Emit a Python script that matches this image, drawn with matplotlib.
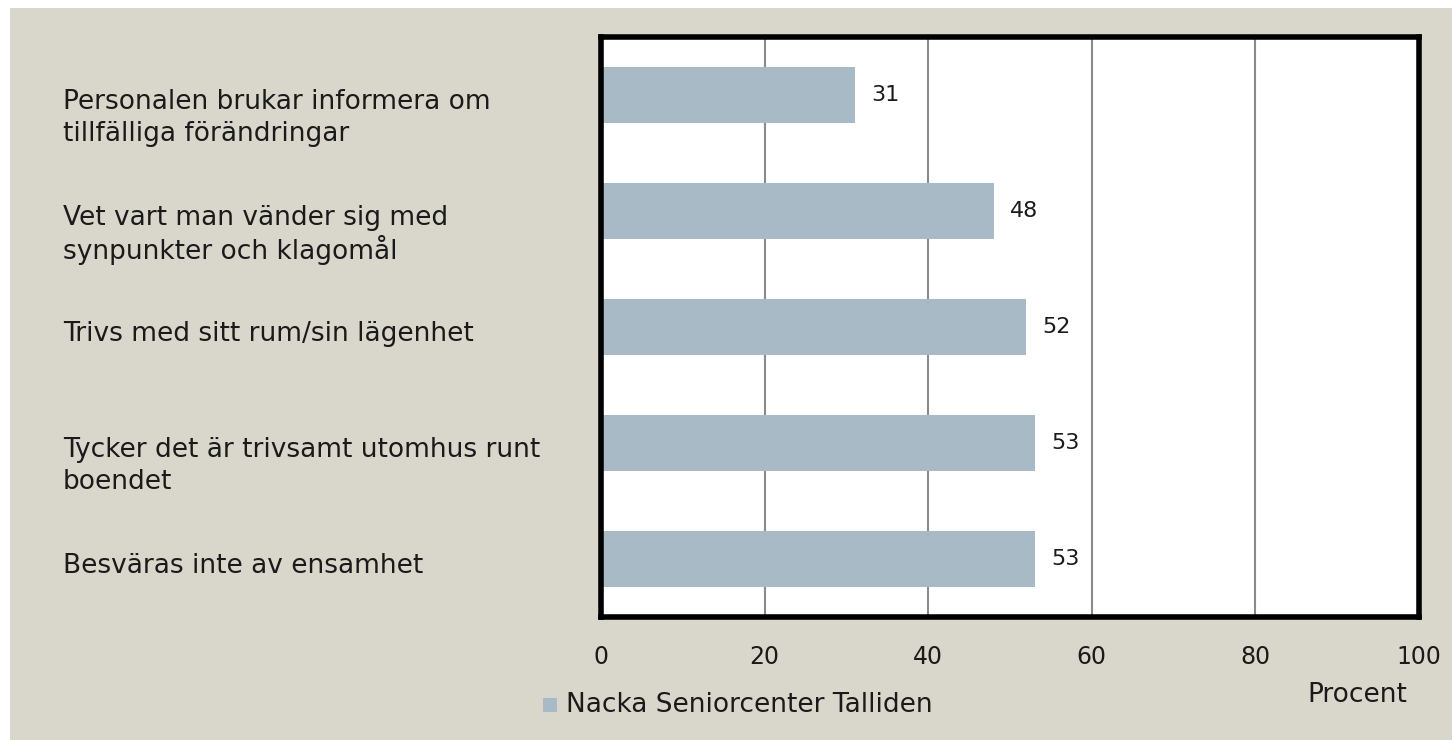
import matplotlib
matplotlib.use("Agg")
import matplotlib.pyplot as plt
import matplotlib.transforms as mtransforms
from matplotlib.patches import Rectangle

categories = [
    "Personalen brukar informera om\ntillfälliga förändringar",
    "Vet vart man vänder sig med\nsynpunkter och klagomål",
    "Trivs med sitt rum/sin lägenhet",
    "Tycker det är trivsamt utomhus runt\nboendet",
    "Besväras inte av ensamhet",
]
values = [31, 48, 52, 53, 53]
xticks = [0, 20, 40, 60, 80, 100]
series_name = "Nacka Seniorcenter Talliden"
axis_label = "Procent"

BG = "#D9D7CB"
BAR = "#A7BAC5"
W, H = 1452, 740
plt.rcParams['font.family'] = ['DejaVu Sans']

fig = plt.figure(figsize=(W / 100, H / 100), dpi=100, facecolor="white")
fig.patches.append(Rectangle((10 / W, 0), 1 - 10 / W, 1 - 8 / H,
                             transform=fig.transFigure, facecolor=BG,
                             edgecolor="none", zorder=-10))

left, right, top, bottom = 601, 1419, 37, 617
ax = fig.add_axes([left / W, 1 - bottom / H, (right - left) / W, (bottom - top) / H])
ax.set_facecolor("white")

n = len(categories)
ypos = list(range(n))
ax.barh(ypos, values, height=0.49, color=BAR, zorder=2)
ax.set_xlim(0, 100)
ax.set_ylim(n - 0.5, -0.5)

for x in xticks[1:-1]:
    ax.axvline(x, color="#8a8a8a", lw=1.5, zorder=1)

for s in ax.spines.values():
    s.set_linewidth(4)
    s.set_color("black")

ax.set_xticks(xticks)
ax.set_xticklabels([str(t) for t in xticks], fontsize=17, color="#1a1a1a")
ax.tick_params(axis="x", length=0, pad=20)
ax.set_yticks([])

for y, v in zip(ypos, values):
    ax.text(v + 2.0, y, str(v), va="center", ha="left", fontsize=16, color="#1a1a1a")

trans = mtransforms.blended_transform_factory(fig.transFigure, ax.transData)
line_px = 32
for y, lab in zip(ypos, categories):
    for i, line in enumerate(lab.split("\n")):
        off = mtransforms.ScaledTranslation(0, -(4 + i * line_px) / 100, fig.dpi_scale_trans)
        ax.text(63 / W, y, line, transform=trans + off, ha="left", va="center_baseline",
                fontsize=19, color="#1a1a1a")

fig.patches.append(Rectangle((543 / W, 1 - 712 / H), 14 / W, 14 / H,
                             transform=fig.transFigure, facecolor=BAR, edgecolor="none"))
fig.text(566 / W, 1 - 705 / H, series_name, ha="left", va="center", fontsize=19, color="#1a1a1a")
fig.text(1357 / W, 1 - 695 / H, axis_label, ha="center", va="center", fontsize=19, color="#1a1a1a")

fig.savefig("out.png", dpi=100, facecolor="white")
